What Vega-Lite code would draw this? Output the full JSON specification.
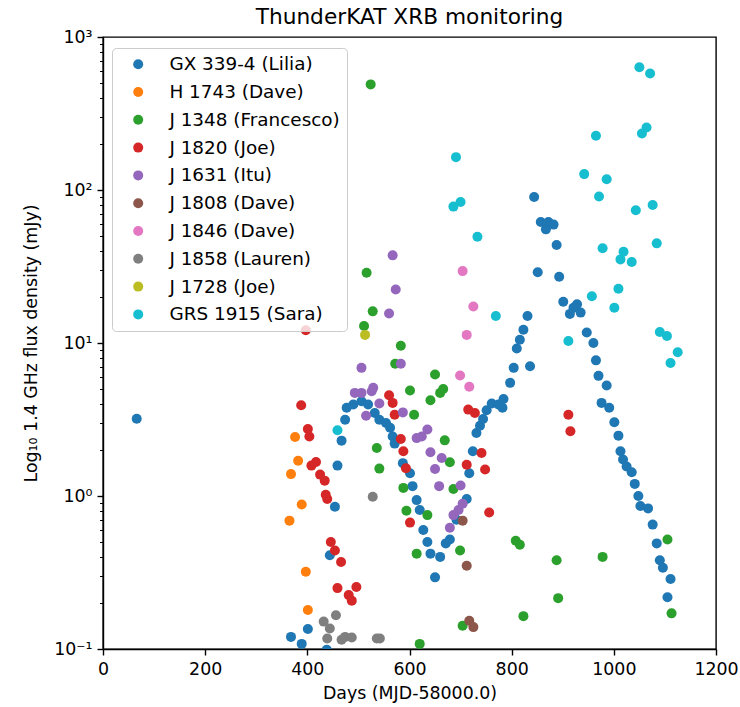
{
  "$schema": "https://vega.github.io/schema/vega-lite/v6.json",
  "autosize": "none",
  "width": 613,
  "height": 612,
  "padding": {"left": 103, "top": 37, "right": 24, "bottom": 58},
  "background": "white",
  "view": {"stroke": "black", "strokeWidth": 1.4},
  "config": {"font": "DejaVu Sans"},
  "title": {"text": "ThunderKAT XRB monitoring", "font": "DejaVu Sans", "fontSize": 21.7, "fontWeight": "normal", "color": "black", "offset": -1, "anchor": "middle", "frame": "group"},
  "data": {"values": [
    {"source": "GX 339-4 (Lilia)", "day": 66, "flux": 3.2},
    {"source": "GX 339-4 (Lilia)", "day": 368, "flux": 0.12},
    {"source": "GX 339-4 (Lilia)", "day": 389, "flux": 0.108},
    {"source": "GX 339-4 (Lilia)", "day": 401, "flux": 0.135},
    {"source": "GX 339-4 (Lilia)", "day": 438, "flux": 0.099},
    {"source": "GX 339-4 (Lilia)", "day": 444, "flux": 0.41},
    {"source": "GX 339-4 (Lilia)", "day": 454, "flux": 0.85},
    {"source": "GX 339-4 (Lilia)", "day": 459, "flux": 1.58},
    {"source": "GX 339-4 (Lilia)", "day": 467, "flux": 2.30},
    {"source": "GX 339-4 (Lilia)", "day": 474, "flux": 3.15},
    {"source": "GX 339-4 (Lilia)", "day": 477, "flux": 3.77},
    {"source": "GX 339-4 (Lilia)", "day": 490, "flux": 3.96},
    {"source": "GX 339-4 (Lilia)", "day": 506, "flux": 4.16},
    {"source": "GX 339-4 (Lilia)", "day": 519, "flux": 3.96},
    {"source": "GX 339-4 (Lilia)", "day": 532, "flux": 3.49},
    {"source": "GX 339-4 (Lilia)", "day": 541, "flux": 3.15},
    {"source": "GX 339-4 (Lilia)", "day": 554, "flux": 3.0},
    {"source": "GX 339-4 (Lilia)", "day": 562, "flux": 2.79},
    {"source": "GX 339-4 (Lilia)", "day": 567, "flux": 2.45},
    {"source": "GX 339-4 (Lilia)", "day": 571, "flux": 2.20},
    {"source": "GX 339-4 (Lilia)", "day": 587, "flux": 1.64},
    {"source": "GX 339-4 (Lilia)", "day": 601, "flux": 1.41},
    {"source": "GX 339-4 (Lilia)", "day": 606, "flux": 1.16},
    {"source": "GX 339-4 (Lilia)", "day": 614, "flux": 0.94},
    {"source": "GX 339-4 (Lilia)", "day": 620, "flux": 0.81},
    {"source": "GX 339-4 (Lilia)", "day": 627, "flux": 0.60},
    {"source": "GX 339-4 (Lilia)", "day": 635, "flux": 0.50},
    {"source": "GX 339-4 (Lilia)", "day": 641, "flux": 0.42},
    {"source": "GX 339-4 (Lilia)", "day": 650, "flux": 0.294},
    {"source": "GX 339-4 (Lilia)", "day": 660, "flux": 0.40},
    {"source": "GX 339-4 (Lilia)", "day": 671, "flux": 0.49},
    {"source": "GX 339-4 (Lilia)", "day": 679, "flux": 0.52},
    {"source": "GX 339-4 (Lilia)", "day": 692, "flux": 0.70},
    {"source": "GX 339-4 (Lilia)", "day": 712, "flux": 0.955},
    {"source": "GX 339-4 (Lilia)", "day": 717, "flux": 1.41},
    {"source": "GX 339-4 (Lilia)", "day": 724, "flux": 1.96},
    {"source": "GX 339-4 (Lilia)", "day": 731, "flux": 2.58},
    {"source": "GX 339-4 (Lilia)", "day": 738, "flux": 2.88},
    {"source": "GX 339-4 (Lilia)", "day": 744, "flux": 3.19},
    {"source": "GX 339-4 (Lilia)", "day": 751, "flux": 3.63},
    {"source": "GX 339-4 (Lilia)", "day": 761, "flux": 4.02},
    {"source": "GX 339-4 (Lilia)", "day": 774, "flux": 3.96},
    {"source": "GX 339-4 (Lilia)", "day": 782, "flux": 3.77},
    {"source": "GX 339-4 (Lilia)", "day": 784, "flux": 4.31},
    {"source": "GX 339-4 (Lilia)", "day": 797, "flux": 5.49},
    {"source": "GX 339-4 (Lilia)", "day": 804, "flux": 6.88},
    {"source": "GX 339-4 (Lilia)", "day": 810, "flux": 9.2},
    {"source": "GX 339-4 (Lilia)", "day": 816, "flux": 10.5},
    {"source": "GX 339-4 (Lilia)", "day": 823, "flux": 12.2},
    {"source": "GX 339-4 (Lilia)", "day": 831, "flux": 15.0},
    {"source": "GX 339-4 (Lilia)", "day": 836, "flux": 7.05},
    {"source": "GX 339-4 (Lilia)", "day": 844, "flux": 90},
    {"source": "GX 339-4 (Lilia)", "day": 851, "flux": 29},
    {"source": "GX 339-4 (Lilia)", "day": 857, "flux": 61.8},
    {"source": "GX 339-4 (Lilia)", "day": 867, "flux": 55.3},
    {"source": "GX 339-4 (Lilia)", "day": 872, "flux": 61.8},
    {"source": "GX 339-4 (Lilia)", "day": 882, "flux": 59.4},
    {"source": "GX 339-4 (Lilia)", "day": 888, "flux": 43.7},
    {"source": "GX 339-4 (Lilia)", "day": 893, "flux": 27.1},
    {"source": "GX 339-4 (Lilia)", "day": 901, "flux": 18.6},
    {"source": "GX 339-4 (Lilia)", "day": 914, "flux": 15.5},
    {"source": "GX 339-4 (Lilia)", "day": 921, "flux": 17.0},
    {"source": "GX 339-4 (Lilia)", "day": 928, "flux": 17.9},
    {"source": "GX 339-4 (Lilia)", "day": 935, "flux": 15.8},
    {"source": "GX 339-4 (Lilia)", "day": 947, "flux": 11.7},
    {"source": "GX 339-4 (Lilia)", "day": 960, "flux": 10.0},
    {"source": "GX 339-4 (Lilia)", "day": 965, "flux": 7.7},
    {"source": "GX 339-4 (Lilia)", "day": 970, "flux": 6.1},
    {"source": "GX 339-4 (Lilia)", "day": 976, "flux": 4.06},
    {"source": "GX 339-4 (Lilia)", "day": 986, "flux": 5.27},
    {"source": "GX 339-4 (Lilia)", "day": 991, "flux": 3.77},
    {"source": "GX 339-4 (Lilia)", "day": 1001, "flux": 3.03},
    {"source": "GX 339-4 (Lilia)", "day": 1009, "flux": 2.48},
    {"source": "GX 339-4 (Lilia)", "day": 1013, "flux": 1.96},
    {"source": "GX 339-4 (Lilia)", "day": 1018, "flux": 1.73},
    {"source": "GX 339-4 (Lilia)", "day": 1025, "flux": 1.56},
    {"source": "GX 339-4 (Lilia)", "day": 1035, "flux": 1.43},
    {"source": "GX 339-4 (Lilia)", "day": 1041, "flux": 1.20},
    {"source": "GX 339-4 (Lilia)", "day": 1048, "flux": 1.00},
    {"source": "GX 339-4 (Lilia)", "day": 1052, "flux": 0.86},
    {"source": "GX 339-4 (Lilia)", "day": 1067, "flux": 0.83},
    {"source": "GX 339-4 (Lilia)", "day": 1076, "flux": 0.65},
    {"source": "GX 339-4 (Lilia)", "day": 1084, "flux": 0.49},
    {"source": "GX 339-4 (Lilia)", "day": 1090, "flux": 0.38},
    {"source": "GX 339-4 (Lilia)", "day": 1096, "flux": 0.34},
    {"source": "GX 339-4 (Lilia)", "day": 1105, "flux": 0.218},
    {"source": "GX 339-4 (Lilia)", "day": 1111, "flux": 0.287},
    {"source": "H 1743 (Dave)", "day": 376, "flux": 2.43},
    {"source": "H 1743 (Dave)", "day": 382, "flux": 1.70},
    {"source": "H 1743 (Dave)", "day": 368, "flux": 1.39},
    {"source": "H 1743 (Dave)", "day": 389, "flux": 0.88},
    {"source": "H 1743 (Dave)", "day": 365, "flux": 0.69},
    {"source": "H 1743 (Dave)", "day": 397, "flux": 0.32},
    {"source": "H 1743 (Dave)", "day": 401, "flux": 0.18},
    {"source": "J 1348 (Francesco)", "day": 524, "flux": 490},
    {"source": "J 1348 (Francesco)", "day": 516, "flux": 28.8},
    {"source": "J 1348 (Francesco)", "day": 528, "flux": 16.1},
    {"source": "J 1348 (Francesco)", "day": 511, "flux": 12.9},
    {"source": "J 1348 (Francesco)", "day": 583, "flux": 9.6},
    {"source": "J 1348 (Francesco)", "day": 572, "flux": 7.31},
    {"source": "J 1348 (Francesco)", "day": 650, "flux": 6.22},
    {"source": "J 1348 (Francesco)", "day": 601, "flux": 4.89},
    {"source": "J 1348 (Francesco)", "day": 666, "flux": 5.01},
    {"source": "J 1348 (Francesco)", "day": 660, "flux": 4.72},
    {"source": "J 1348 (Francesco)", "day": 641, "flux": 4.23},
    {"source": "J 1348 (Francesco)", "day": 609, "flux": 3.40},
    {"source": "J 1348 (Francesco)", "day": 536, "flux": 2.06},
    {"source": "J 1348 (Francesco)", "day": 541, "flux": 1.51},
    {"source": "J 1348 (Francesco)", "day": 669, "flux": 2.31},
    {"source": "J 1348 (Francesco)", "day": 679, "flux": 1.66},
    {"source": "J 1348 (Francesco)", "day": 686, "flux": 1.11},
    {"source": "J 1348 (Francesco)", "day": 588, "flux": 1.13},
    {"source": "J 1348 (Francesco)", "day": 594, "flux": 0.80},
    {"source": "J 1348 (Francesco)", "day": 635, "flux": 0.75},
    {"source": "J 1348 (Francesco)", "day": 614, "flux": 0.42},
    {"source": "J 1348 (Francesco)", "day": 699, "flux": 0.44},
    {"source": "J 1348 (Francesco)", "day": 808, "flux": 0.51},
    {"source": "J 1348 (Francesco)", "day": 816, "flux": 0.48},
    {"source": "J 1348 (Francesco)", "day": 888, "flux": 0.38},
    {"source": "J 1348 (Francesco)", "day": 891, "flux": 0.215},
    {"source": "J 1348 (Francesco)", "day": 823, "flux": 0.164},
    {"source": "J 1348 (Francesco)", "day": 704, "flux": 0.142},
    {"source": "J 1348 (Francesco)", "day": 620, "flux": 0.108},
    {"source": "J 1348 (Francesco)", "day": 978, "flux": 0.40},
    {"source": "J 1348 (Francesco)", "day": 1105, "flux": 0.52},
    {"source": "J 1348 (Francesco)", "day": 1113, "flux": 0.171},
    {"source": "J 1820 (Joe)", "day": 397, "flux": 12.1},
    {"source": "J 1820 (Joe)", "day": 388, "flux": 3.92},
    {"source": "J 1820 (Joe)", "day": 401, "flux": 2.74},
    {"source": "J 1820 (Joe)", "day": 404, "flux": 2.45},
    {"source": "J 1820 (Joe)", "day": 417, "flux": 1.67},
    {"source": "J 1820 (Joe)", "day": 408, "flux": 1.58},
    {"source": "J 1820 (Joe)", "day": 425, "flux": 1.38},
    {"source": "J 1820 (Joe)", "day": 434, "flux": 1.26},
    {"source": "J 1820 (Joe)", "day": 436, "flux": 1.02},
    {"source": "J 1820 (Joe)", "day": 439, "flux": 0.955},
    {"source": "J 1820 (Joe)", "day": 446, "flux": 0.50},
    {"source": "J 1820 (Joe)", "day": 454, "flux": 0.44},
    {"source": "J 1820 (Joe)", "day": 466, "flux": 0.37},
    {"source": "J 1820 (Joe)", "day": 459, "flux": 0.25},
    {"source": "J 1820 (Joe)", "day": 481, "flux": 0.225},
    {"source": "J 1820 (Joe)", "day": 487, "flux": 0.207},
    {"source": "J 1820 (Joe)", "day": 496, "flux": 0.254},
    {"source": "J 1820 (Joe)", "day": 560, "flux": 4.55},
    {"source": "J 1820 (Joe)", "day": 567, "flux": 4.06},
    {"source": "J 1820 (Joe)", "day": 571, "flux": 3.40},
    {"source": "J 1820 (Joe)", "day": 583, "flux": 2.36},
    {"source": "J 1820 (Joe)", "day": 588, "flux": 1.96},
    {"source": "J 1820 (Joe)", "day": 593, "flux": 1.52},
    {"source": "J 1820 (Joe)", "day": 601, "flux": 0.67},
    {"source": "J 1820 (Joe)", "day": 715, "flux": 3.67},
    {"source": "J 1820 (Joe)", "day": 728, "flux": 3.49},
    {"source": "J 1820 (Joe)", "day": 741, "flux": 1.91},
    {"source": "J 1820 (Joe)", "day": 712, "flux": 1.60},
    {"source": "J 1820 (Joe)", "day": 748, "flux": 1.49},
    {"source": "J 1820 (Joe)", "day": 756, "flux": 0.78},
    {"source": "J 1820 (Joe)", "day": 911, "flux": 3.40},
    {"source": "J 1820 (Joe)", "day": 915, "flux": 2.65},
    {"source": "J 1631 (Itu)", "day": 567, "flux": 37.4},
    {"source": "J 1631 (Itu)", "day": 573, "flux": 22.4},
    {"source": "J 1631 (Itu)", "day": 560, "flux": 15.6},
    {"source": "J 1631 (Itu)", "day": 506, "flux": 6.88},
    {"source": "J 1631 (Itu)", "day": 583, "flux": 7.31},
    {"source": "J 1631 (Itu)", "day": 493, "flux": 4.72},
    {"source": "J 1631 (Itu)", "day": 506, "flux": 4.72},
    {"source": "J 1631 (Itu)", "day": 526, "flux": 4.84},
    {"source": "J 1631 (Itu)", "day": 529, "flux": 5.09},
    {"source": "J 1631 (Itu)", "day": 541, "flux": 4.02},
    {"source": "J 1631 (Itu)", "day": 587, "flux": 3.52},
    {"source": "J 1631 (Itu)", "day": 515, "flux": 3.35},
    {"source": "J 1631 (Itu)", "day": 614, "flux": 2.39},
    {"source": "J 1631 (Itu)", "day": 624, "flux": 2.45},
    {"source": "J 1631 (Itu)", "day": 635, "flux": 2.72},
    {"source": "J 1631 (Itu)", "day": 641, "flux": 1.93},
    {"source": "J 1631 (Itu)", "day": 663, "flux": 1.77},
    {"source": "J 1631 (Itu)", "day": 650, "flux": 1.50},
    {"source": "J 1631 (Itu)", "day": 658, "flux": 1.16},
    {"source": "J 1631 (Itu)", "day": 700, "flux": 1.17},
    {"source": "J 1631 (Itu)", "day": 704, "flux": 0.89},
    {"source": "J 1631 (Itu)", "day": 696, "flux": 0.81},
    {"source": "J 1631 (Itu)", "day": 686, "flux": 0.75},
    {"source": "J 1631 (Itu)", "day": 679, "flux": 0.62},
    {"source": "J 1808 (Dave)", "day": 704, "flux": 0.69},
    {"source": "J 1808 (Dave)", "day": 712, "flux": 0.35},
    {"source": "J 1808 (Dave)", "day": 717, "flux": 0.153},
    {"source": "J 1808 (Dave)", "day": 725, "flux": 0.139},
    {"source": "J 1846 (Dave)", "day": 704, "flux": 29.5},
    {"source": "J 1846 (Dave)", "day": 725, "flux": 17.3},
    {"source": "J 1846 (Dave)", "day": 712, "flux": 11.3},
    {"source": "J 1846 (Dave)", "day": 699, "flux": 6.13},
    {"source": "J 1846 (Dave)", "day": 717, "flux": 5.17},
    {"source": "J 1858 (Lauren)", "day": 456, "flux": 0.166},
    {"source": "J 1858 (Lauren)", "day": 432, "flux": 0.151},
    {"source": "J 1858 (Lauren)", "day": 444, "flux": 0.136},
    {"source": "J 1858 (Lauren)", "day": 439, "flux": 0.117},
    {"source": "J 1858 (Lauren)", "day": 474, "flux": 0.12},
    {"source": "J 1858 (Lauren)", "day": 467, "flux": 0.115},
    {"source": "J 1858 (Lauren)", "day": 528, "flux": 0.99},
    {"source": "J 1858 (Lauren)", "day": 487, "flux": 0.119},
    {"source": "J 1858 (Lauren)", "day": 536, "flux": 0.117},
    {"source": "J 1858 (Lauren)", "day": 542, "flux": 0.117},
    {"source": "J 1728 (Joe)", "day": 513, "flux": 11.3},
    {"source": "GRS 1915 (Sara)", "day": 459, "flux": 2.69},
    {"source": "GRS 1915 (Sara)", "day": 691, "flux": 164},
    {"source": "GRS 1915 (Sara)", "day": 700, "flux": 83.5},
    {"source": "GRS 1915 (Sara)", "day": 686, "flux": 77.9},
    {"source": "GRS 1915 (Sara)", "day": 733, "flux": 49.5},
    {"source": "GRS 1915 (Sara)", "day": 769, "flux": 15.0},
    {"source": "GRS 1915 (Sara)", "day": 911, "flux": 10.3},
    {"source": "GRS 1915 (Sara)", "day": 942, "flux": 127},
    {"source": "GRS 1915 (Sara)", "day": 1050, "flux": 634},
    {"source": "GRS 1915 (Sara)", "day": 1071, "flux": 578},
    {"source": "GRS 1915 (Sara)", "day": 1064, "flux": 256},
    {"source": "GRS 1915 (Sara)", "day": 1055, "flux": 234},
    {"source": "GRS 1915 (Sara)", "day": 965, "flux": 226},
    {"source": "GRS 1915 (Sara)", "day": 986, "flux": 117.5},
    {"source": "GRS 1915 (Sara)", "day": 971, "flux": 90.6},
    {"source": "GRS 1915 (Sara)", "day": 1043, "flux": 73.7},
    {"source": "GRS 1915 (Sara)", "day": 1076, "flux": 79.8},
    {"source": "GRS 1915 (Sara)", "day": 1084, "flux": 44.8},
    {"source": "GRS 1915 (Sara)", "day": 978, "flux": 41.6},
    {"source": "GRS 1915 (Sara)", "day": 1019, "flux": 39.5},
    {"source": "GRS 1915 (Sara)", "day": 1013, "flux": 35.2},
    {"source": "GRS 1915 (Sara)", "day": 1035, "flux": 33.8},
    {"source": "GRS 1915 (Sara)", "day": 1009, "flux": 22.6},
    {"source": "GRS 1915 (Sara)", "day": 957, "flux": 20.2},
    {"source": "GRS 1915 (Sara)", "day": 1001, "flux": 17.0},
    {"source": "GRS 1915 (Sara)", "day": 1090, "flux": 11.8},
    {"source": "GRS 1915 (Sara)", "day": 1104, "flux": 11.1},
    {"source": "GRS 1915 (Sara)", "day": 1125, "flux": 8.7},
    {"source": "GRS 1915 (Sara)", "day": 1111, "flux": 7.4}
  ]},
  "mark": {"type": "point", "filled": true, "opacity": 1, "size": 100, "strokeWidth": 0, "clip": true},
  "encoding": {
    "x": {"field": "day", "type": "quantitative",
      "scale": {"domain": [0, 1200], "nice": false, "zero": false},
      "axis": {"title": "Days (MJD-58000.0)", "values": [0, 200, 400, 600, 800, 1000, 1200], "format": "d", "grid": false,
        "domainColor": "black", "domainWidth": 1.4, "tickColor": "black", "tickWidth": 1.4, "tickSize": 6,
        "labelFont": "DejaVu Sans", "labelFontSize": 17.4, "labelColor": "black", "labelPadding": 5, "labelFlush": false,
        "titleFont": "DejaVu Sans", "titleFontSize": 17.4, "titleFontWeight": "normal", "titleColor": "black", "titlePadding": 7}},
    "y": {"field": "flux", "type": "quantitative",
      "scale": {"type": "log", "domain": [0.1, 1000], "nice": false},
      "axis": {"title": "Log₁₀ 1.4 GHz flux density (mJy)", "grid": false,
        "values": [0.1, 0.2, 0.3, 0.4, 0.5, 0.6, 0.7, 0.8, 0.9, 1, 2, 3, 4, 5, 6, 7, 8, 9, 10, 20, 30, 40, 50, 60, 70, 80, 90, 100, 200, 300, 400, 500, 600, 700, 800, 900, 1000],
        "labelExpr": "datum.value == 1000 ? '10³' : datum.value == 100 ? '10²' : datum.value == 10 ? '10¹' : datum.value == 1 ? '10⁰' : datum.value == 0.1 ? '10⁻¹' : ''",
        "tickSize": {"condition": {"test": "datum.value == 1000 || datum.value == 100 || datum.value == 10 || datum.value == 1 || datum.value == 0.1", "value": 6}, "value": 3.5},
        "tickWidth": {"condition": {"test": "datum.value == 1000 || datum.value == 100 || datum.value == 10 || datum.value == 1 || datum.value == 0.1", "value": 1.4}, "value": 1.0},
        "domainColor": "black", "domainWidth": 1.4, "tickColor": "black",
        "labelFont": "DejaVu Sans", "labelFontSize": 17.4, "labelColor": "black", "labelPadding": 5, "labelFlush": false, "labelOverlap": false,
        "titleFont": "DejaVu Sans", "titleFontSize": 17.4, "titleFontWeight": "normal", "titleColor": "black", "titlePadding": 13}},
    "color": {"field": "source", "type": "nominal",
      "scale": {"domain": ["GX 339-4 (Lilia)", "H 1743 (Dave)", "J 1348 (Francesco)", "J 1820 (Joe)", "J 1631 (Itu)", "J 1808 (Dave)", "J 1846 (Dave)", "J 1858 (Lauren)", "J 1728 (Joe)", "GRS 1915 (Sara)"],
        "range": ["#1f77b4", "#ff7f0e", "#2ca02c", "#d62728", "#9467bd", "#8c564b", "#e377c2", "#7f7f7f", "#bcbd22", "#17becf"]},
      "legend": {"title": null, "orient": "none", "legendX": 9, "legendY": 11,
        "symbolType": "circle", "symbolSize": 100, "symbolOpacity": 1, "symbolStrokeWidth": 0, "symbolOffset": 10,
        "labelFont": "DejaVu Sans", "labelFontSize": 18.4, "labelColor": "black", "labelOffset": 22, "labelLimit": 0,
        "padding": 7, "rowPadding": 8.8, "fillColor": "rgba(255,255,255,0.8)", "strokeColor": "#cccccc", "cornerRadius": 4}}
  }
}
